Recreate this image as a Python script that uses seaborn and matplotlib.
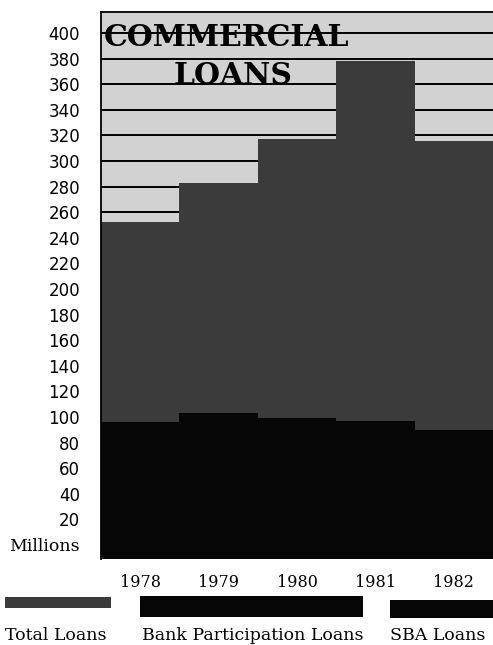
import matplotlib
matplotlib.use("Agg")
import matplotlib.pyplot as plt
from matplotlib.patches import Rectangle
import seaborn as sns
import pandas as pd

# ---- data (millions of dollars) ----
years = ["1978", "1979", "1980", "1981", "1982"]
total_loans = [252, 283, 317, 378, 316]
bank_participation = [96, 103, 99, 97, 90]
y_ticks = list(range(0, 401, 20))
y_labels = ["Millions"] + [str(v) for v in y_ticks[1:]]
legend_labels = ["Total Loans", "Bank Participation Loans", "SBA Loans"]
title_lines = ["COMMERCIAL", "LOANS"]

df = pd.DataFrame({"year": years, "total": total_loans, "bank": bank_participation})

sns.set_theme(style="white")
plt.rcParams["font.family"] = ["DejaVu Serif"]
plt.rcParams["text.color"] = "black"
plt.rcParams["xtick.color"] = "black"
plt.rcParams["ytick.color"] = "black"

W, H = 493, 645
fig = plt.figure(figsize=(W / 100, H / 100), dpi=100)
ax = fig.add_axes([101 / W, 1 - 559 / H, 1 - 101 / W, (559 - 12) / H])

BG = "#d2d2d2"
TOTAL_C = "#3b3b3b"
BANK_C = "#060606"
ax.set_facecolor(BG)

ymin, ymax = -11, 416.5
ax.set_ylim(ymin, ymax)

# gridlines behind bars
for v in y_ticks[1:]:
    ax.axhline(v, color="black", lw=1.4, zorder=0.5)

sns.barplot(data=df, x="year", y="total", color=TOTAL_C, width=1.0,
            saturation=1, ax=ax, zorder=2, linewidth=0)
sns.barplot(data=df, x="year", y="bank", color=BANK_C, width=1.0,
            saturation=1, ax=ax, zorder=3, linewidth=0)

# extend the bars down to the floor of the frame
for p in ax.patches:
    p.set_height(p.get_height() - ymin)
    p.set_y(ymin)

ax.set_xlim(-0.5, 4.5)
ax.set_xlabel("")
ax.set_ylabel("")

ax.set_yticks(y_ticks)
ax.set_yticklabels(y_labels)
ax.tick_params(axis="y", length=0, pad=15, labelsize=12, labelcolor="black")
for i, t in enumerate(ax.get_yticklabels()):
    if i == 0:
        t.set_fontfamily("DejaVu Serif")
        t.set_fontsize(12.5)
    else:
        t.set_fontfamily("DejaVu Sans")
ax.tick_params(axis="x", length=0, pad=11, labelsize=11.5, labelcolor="black")

for side in ["right", "bottom"]:
    ax.spines[side].set_visible(False)
for side in ["top", "left"]:
    ax.spines[side].set_color("black")
    ax.spines[side].set_linewidth(1.3)
    ax.spines[side].set_zorder(5)

# title
fig.text(104 / W, 1 - 37 / H, title_lines[0], fontsize=21.5, fontweight="bold",
         family="DejaVu Serif", color="black", va="center", ha="left", zorder=10)
fig.text(233 / W, 1 - 75 / H, title_lines[1], fontsize=21.5, fontweight="bold",
         family="DejaVu Serif", color="black", va="center", ha="center", zorder=10)

# legend drawn as swatches above labels
swatches = [
    (5, 597, 106, 11, TOTAL_C),
    (140, 596, 223, 21, BANK_C),
    (390, 600, 103, 18, BANK_C),
]
text_x = [5, 142, 390]
for (x0, y0, w, h, c), tx, lab in zip(swatches, text_x, legend_labels):
    fig.add_artist(Rectangle((x0 / W, 1 - (y0 + h) / H), w / W, h / H,
                             transform=fig.transFigure, facecolor=c,
                             edgecolor="none"))
    fig.text(tx / W, 1 - 635 / H, lab, fontsize=12.5, family="DejaVu Serif",
             color="black", va="center", ha="left")

fig.savefig("out.png", dpi=100, facecolor="white")
